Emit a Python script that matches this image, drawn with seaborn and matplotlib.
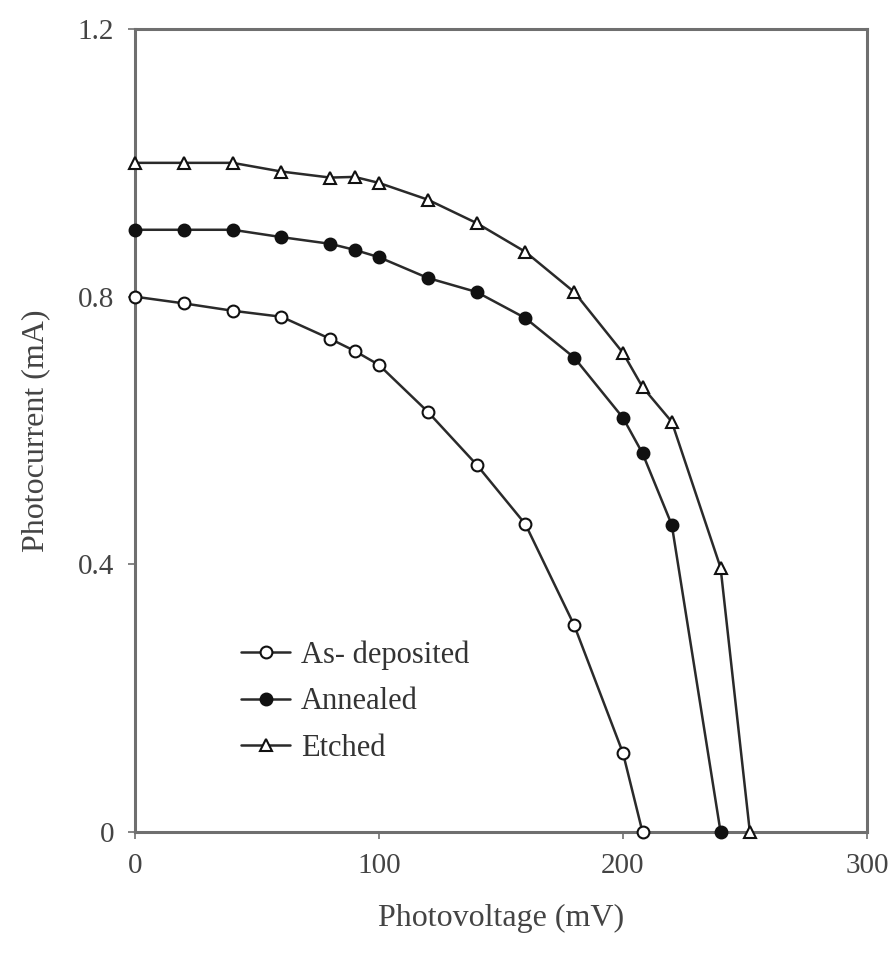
import matplotlib
matplotlib.use("Agg")
import matplotlib.pyplot as plt
import seaborn as sns
import pandas as pd

# Photovoltage (mV) and photocurrent (mA) for each film treatment
v_as_dep = [0, 20, 40, 60, 80, 90, 100, 120, 140, 160, 180, 200, 208]
i_as_dep = [0.800, 0.790, 0.779, 0.770, 0.737, 0.719, 0.698, 0.628, 0.549, 0.460, 0.309, 0.118, 0.0]

v_annealed = [0, 20, 40, 60, 80, 90, 100, 120, 140, 160, 180, 200, 208, 220, 240]
i_annealed = [0.900, 0.900, 0.900, 0.889, 0.879, 0.870, 0.859, 0.828, 0.807, 0.768, 0.709, 0.619, 0.566, 0.459, 0.0]

v_etched = [0, 20, 40, 60, 80, 90, 100, 120, 140, 160, 180, 200, 208, 220, 240, 252]
i_etched = [1.000, 1.000, 1.000, 0.987, 0.978, 0.979, 0.970, 0.945, 0.910, 0.867, 0.807, 0.716, 0.665, 0.613, 0.395, 0.0]

series_names = ["As- deposited", "Annealed", "Etched"]
x_ticks = [0, 100, 200, 300]
y_ticks = [0, 0.4, 0.8, 1.2]
y_tick_labels = ["0", "0.4", "0.8", "1.2"]

frames = []
for name, v, i in zip(series_names,
                      [v_as_dep, v_annealed, v_etched],
                      [i_as_dep, i_annealed, i_etched]):
    frames.append(pd.DataFrame({"voltage": v, "current": i, "sample": name}))
df = pd.concat(frames, ignore_index=True)

sns.set_theme(style="ticks")
plt.rcParams["font.family"] = ["Liberation Serif", "DejaVu Serif"]

fig = plt.figure(figsize=(8.96, 9.64), dpi=100)
ax = fig.add_axes([0.1507, 0.1369, 0.8169, 0.8330])

line_color = "#2a2a2a"
styles = {
    "As- deposited": dict(marker="o", markersize=8.5, markerfacecolor="white"),
    "Annealed": dict(marker="o", markersize=8.5, markerfacecolor="#111111"),
    "Etched": dict(marker="^", markersize=8.5, markerfacecolor="white"),
}

for name in series_names:
    sub = df[df["sample"] == name]
    sns.lineplot(data=sub, x="voltage", y="current", ax=ax, color=line_color,
                 linewidth=1.8, markeredgecolor="#111111", markeredgewidth=1.5,
                 label=name, clip_on=False, zorder=3, **styles[name])

ax.set_xlim(0, 300)
ax.set_ylim(0, 1.2)
ax.set_xticks(x_ticks)
ax.set_yticks(y_ticks)
ax.set_yticklabels(y_tick_labels)

for side in ["left", "right", "top", "bottom"]:
    ax.spines[side].set_visible(True)
    ax.spines[side].set_color("#6f6f6f")
    ax.spines[side].set_linewidth(2.2)
    ax.spines[side].set_zorder(2)

ax.tick_params(axis="both", direction="out", length=5, width=1.2, color="#6f6f6f",
               labelsize=21, labelcolor="#444444", pad=10)

ax.set_xlabel("Photovoltage (mV)", fontsize=23, color="#444444", labelpad=18)
ax.set_ylabel("Photocurrent (mA)", fontsize=23, color="#444444", labelpad=20)

leg = ax.legend(loc="upper left", bbox_to_anchor=(0.145, 0.239), frameon=False,
                fontsize=22, handlelength=1.6, handletextpad=0.35,
                labelspacing=0.58, borderaxespad=0, borderpad=0)
for t in leg.get_texts():
    t.set_color("#333333")

fig.savefig("out.png", dpi=100)
